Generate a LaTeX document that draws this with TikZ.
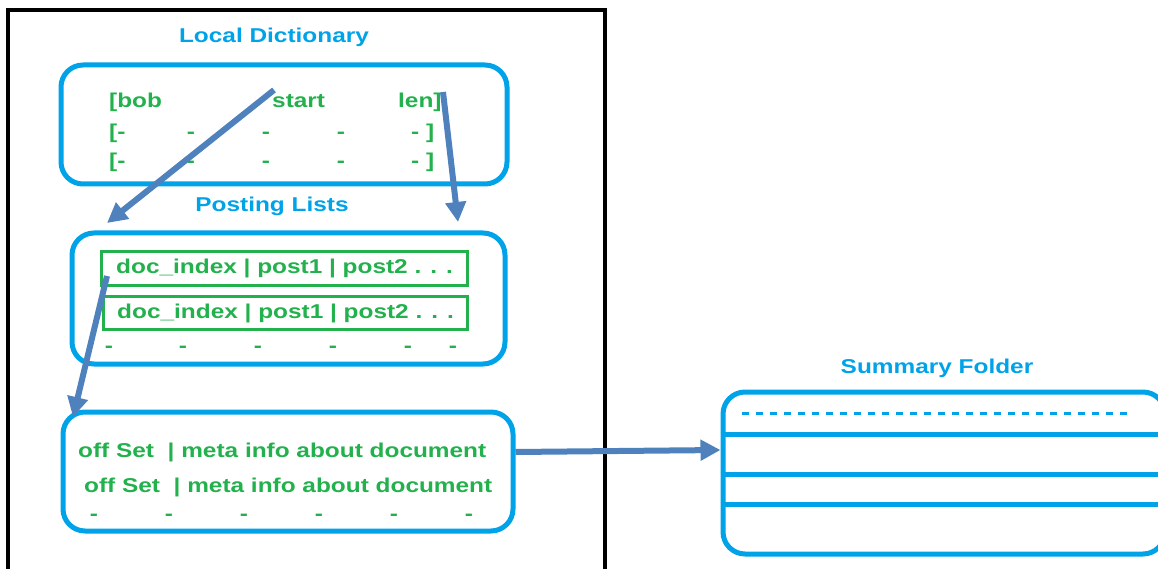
\documentclass[tikz,border=0pt]{standalone}
\usepackage{fontspec}
\setmainfont{Liberation Sans}
\usepackage{xcolor}
\usepackage{graphicx}
\usepackage{tikz}
\usetikzlibrary{arrows.meta}

\definecolor{boxblue}{RGB}{0,162,232}
\definecolor{txtgreen}{RGB}{34,177,76}
\definecolor{arrowblue}{RGB}{79,129,189}
\newcommand{\wide}[1]{\scalebox{1.22}[1]{#1}}

\begin{document}
\begin{tikzpicture}[x=1pt, y=-1pt,
		panel/.style={rectangle, rounded corners=22pt, draw=boxblue, line width=5pt},
		lst/.style={rectangle, draw=txtgreen, line width=3pt},
		title/.style={text=boxblue, font=\bfseries\fontsize{20}{24}\selectfont, inner sep=0pt, anchor=base},
		entry/.style={text=txtgreen, font=\bfseries\fontsize{20}{24}\selectfont, inner sep=0pt, anchor=base west},
		dot/.style={text=txtgreen, font=\bfseries\fontsize{20}{24}\selectfont, inner sep=0pt, anchor=base},
		link/.style={draw=arrowblue, line width=6pt, -{Triangle[length=20pt,width=20pt]}}
	]
		\clip (0,0) rectangle (1158,569);
		\draw[line width=4pt] (8,10) rectangle (605,620);

		% local dictionary
		\node[title] (T1) at (274,43) {\wide{Local Dictionary}};
		\node[panel, minimum width=446pt, minimum height=119pt] (dict) at (284,124.5) {};
		\node[entry] (bob) at (109,108) {\wide{[bob}};
		\node[entry] (start) at (272,108) {\wide{start}};
		\node[entry] (len) at (398,108) {\wide{len]}};
		\foreach \r/\b in {a/139,b/168} {
				\node[entry] (\r0) at (109,\b) {\wide{[-}};
				\node[dot] (\r1) at (191,\b) {\wide{-}};
				\node[dot] (\r2) at (266,\b) {\wide{-}};
				\node[dot] (\r3) at (341,\b) {\wide{-}};
				\node[entry] (\r4) at (411,\b) {\wide{- ]}};
			}

		% posting lists
		\node[title] (T2) at (272,212) {\wide{Posting Lists}};
		\node[panel, minimum width=433pt, minimum height=131pt] (post) at (288.5,298.5) {};
		\node[lst, minimum width=366pt, minimum height=34pt] (L1) at (284,268) {};
		\node[lst, minimum width=364pt, minimum height=33pt] (L2) at (285,312.5) {};
		\node[entry] (P1) at (116,273) {\wide{doc\_index | post1 | post2 . . .}};
		\node[entry] (P2) at (117,318) {\wide{doc\_index | post1 | post2 . . .}};
		\foreach \x in {109,183,258,333,408,453}
			\node[dot] at (\x,352) {\wide{-}};

		% document meta info
		\node[panel, minimum width=450pt, minimum height=119pt] (meta) at (288,471.5) {};
		\node[entry] (M1) at (78,457) {\wide{off Set~ | meta info about document}};
		\node[entry] (M2) at (84,492) {\wide{off Set~ | meta info about document}};
		\foreach \x in {94,169,244,319,394,469}
			\node[dot] at (\x,520) {\wide{-}};

		% summary folder
		\node[title] (T3) at (937,373) {\wide{Summary Folder}};
		\node[panel, minimum width=442pt, minimum height=162pt] (sum) at (944,473) {};
		\draw[boxblue, line width=3pt, dash pattern=on 7pt off 7pt] (742,413) -- (1127,413);
		\foreach \y in {434,474,504}
			\draw[boxblue, line width=5pt] (sum.west |- 0,\y) -- (sum.east |- 0,\y);

		% arrows
		\coordinate (k1) at (274,90);
		\coordinate (k2) at (443,92);
		\coordinate (e1) at (107,223);
		\coordinate (e2) at (458,222);
		\coordinate (d1) at (107,276);
		\coordinate (d2) at (73,417);
		\coordinate (s1) at (meta.east |- 0,452);
		\coordinate (s2) at (sum.west |- 0,450);

		\draw[link] (k1) -- (e1);
		\draw[link] (k2) -- (e2);
		\draw[link] (d1) -- (d2);
		\draw[link] (s1) -- (s2);
	\end{tikzpicture}
\end{document}
